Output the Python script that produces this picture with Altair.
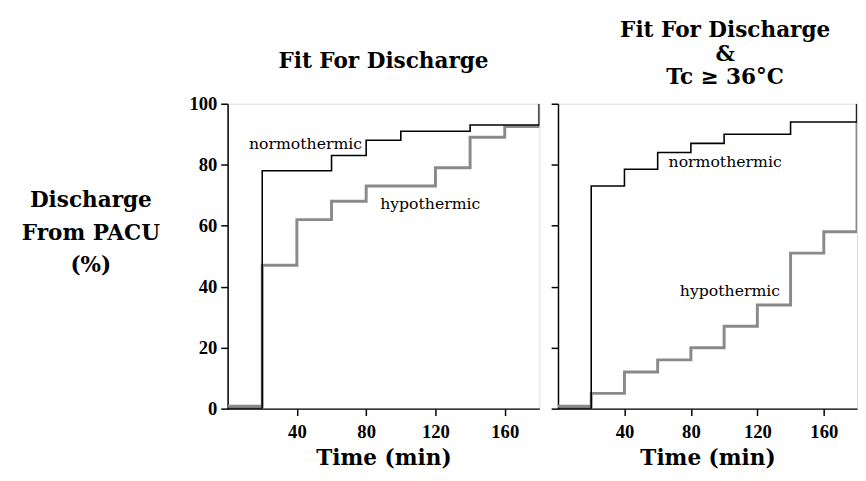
import altair as alt
import pandas as pd

# ---- data ----
time_norm_a = [0, 20, 60, 80, 100, 140, 180]
pct_norm_a = [0, 78, 83, 88, 91, 93, 100]
time_hypo_a = [0, 20, 40, 60, 80, 120, 140, 160, 180]
pct_hypo_a = [0.8, 47, 62, 68, 73, 79, 89, 92.5, 100]

time_norm_b = [0, 20, 40, 60, 80, 100, 140, 180]
pct_norm_b = [0, 73, 78.5, 84, 87, 90, 94, 100]
time_hypo_b = [0, 20, 40, 60, 80, 100, 120, 140, 160, 180]
pct_hypo_b = [0.8, 5, 12, 16, 20, 27, 34, 51, 58, 100]

label_text = ["normothermic", "hypothermic"]
label_t_a = [45, 117]
label_p_a = [86.7, 67]
label_t_b = [100.6, 103.5]
label_p_b = [80.8, 38.4]

x_ticks = [40, 80, 120, 160]
y_ticks = [0, 10, 20, 30, 40, 50, 60, 70, 80, 90, 100]

SERIF = "DejaVu Serif"
TICKFONT = "Liberation Serif"


def panel(tn, pn, th, ph, lt, lp, title, width, left):
    dn = pd.DataFrame({"t": tn, "p": pn})
    dh = pd.DataFrame({"t": th, "p": ph})
    dl = pd.DataFrame({"t": lt, "p": lp, "label": label_text})

    xax = alt.Axis(values=x_ticks, title="Time (min)", grid=False,
                   labelFont=TICKFONT, labelFontSize=19, labelFontWeight="bold",
                   labelColor="black", labelPadding=7,
                   titleFont=SERIF, titleFontSize=22, titleFontWeight="bold",
                   titleColor="black", titlePadding=7,
                   domainColor="black", domainWidth=1.5,
                   tickColor="black", tickWidth=1.5, tickSize=7)
    if left:
        yax = alt.Axis(values=y_ticks, grid=False,
                       labelExpr="datum.value % 20 == 0 ? datum.label : ''",
                       labelFont=TICKFONT, labelFontSize=19, labelFontWeight="bold",
                       labelColor="black", labelPadding=4,
                       title=["Discharge", "From PACU", "(%)"],
                       titleAngle=0, titleAlign="center", titleBaseline="top",
                       titleX=-140, titleY=88, titleLineHeight=33,
                       titleFont=SERIF, titleFontSize=22, titleFontWeight="bold",
                       titleColor="black",
                       domainColor="black", domainWidth=1.5,
                       tickColor="black", tickWidth=1.5, tickSize=7)
    else:
        yax = alt.Axis(values=y_ticks, grid=False, labels=False, title=None,
                       domainColor="black", domainWidth=1.5,
                       tickColor="black", tickWidth=1.5, tickSize=7)

    x = alt.X("t:Q", scale=alt.Scale(domain=[0, 180], nice=False), axis=xax)
    y = alt.Y("p:Q", scale=alt.Scale(domain=[0, 100], nice=False), axis=yax)

    hypo = alt.Chart(dh).mark_line(interpolate="step-after", color="#8a8a8a",
                                   strokeWidth=3, clip=True).encode(x=x, y=y)
    norm = alt.Chart(dn).mark_line(interpolate="step-after", color="black",
                                   strokeWidth=1.6, clip=True).encode(x=x, y=y)
    txt = alt.Chart(dl).mark_text(font=SERIF, fontSize=16, color="black",
                                  align="center", baseline="middle").encode(
        x="t:Q", y="p:Q", text="label:N")
    return alt.layer(hypo, norm, txt).properties(width=width, height=311, title=title)


left_title = alt.TitleParams("Fit For Discharge", font=SERIF, fontSize=22,
                             fontWeight="bold", color="black", anchor="middle",
                             offset=22)
right_title = alt.TitleParams(["Fit For Discharge", "&", "Tc \u2265 36\u00b0C"],
                              font=SERIF, fontSize=22, fontWeight="bold",
                              color="black", anchor="middle", lineHeight=24,
                              offset=14, dx=18)

a = panel(time_norm_a, pct_norm_a, time_hypo_a, pct_hypo_a, label_t_a, label_p_a,
          left_title, 318, True)
b = panel(time_norm_b, pct_norm_b, time_hypo_b, pct_hypo_b, label_t_b, label_p_b,
          right_title, 305, False)

chart = alt.hconcat(a, b, spacing=9).properties(
    padding={"left": 12, "top": 6, "right": 0, "bottom": 0}
).configure_view(stroke="black", strokeWidth=1.5).configure(background="white")

chart.save("out.html", embed_options={"renderer": "svg", "actions": False})
